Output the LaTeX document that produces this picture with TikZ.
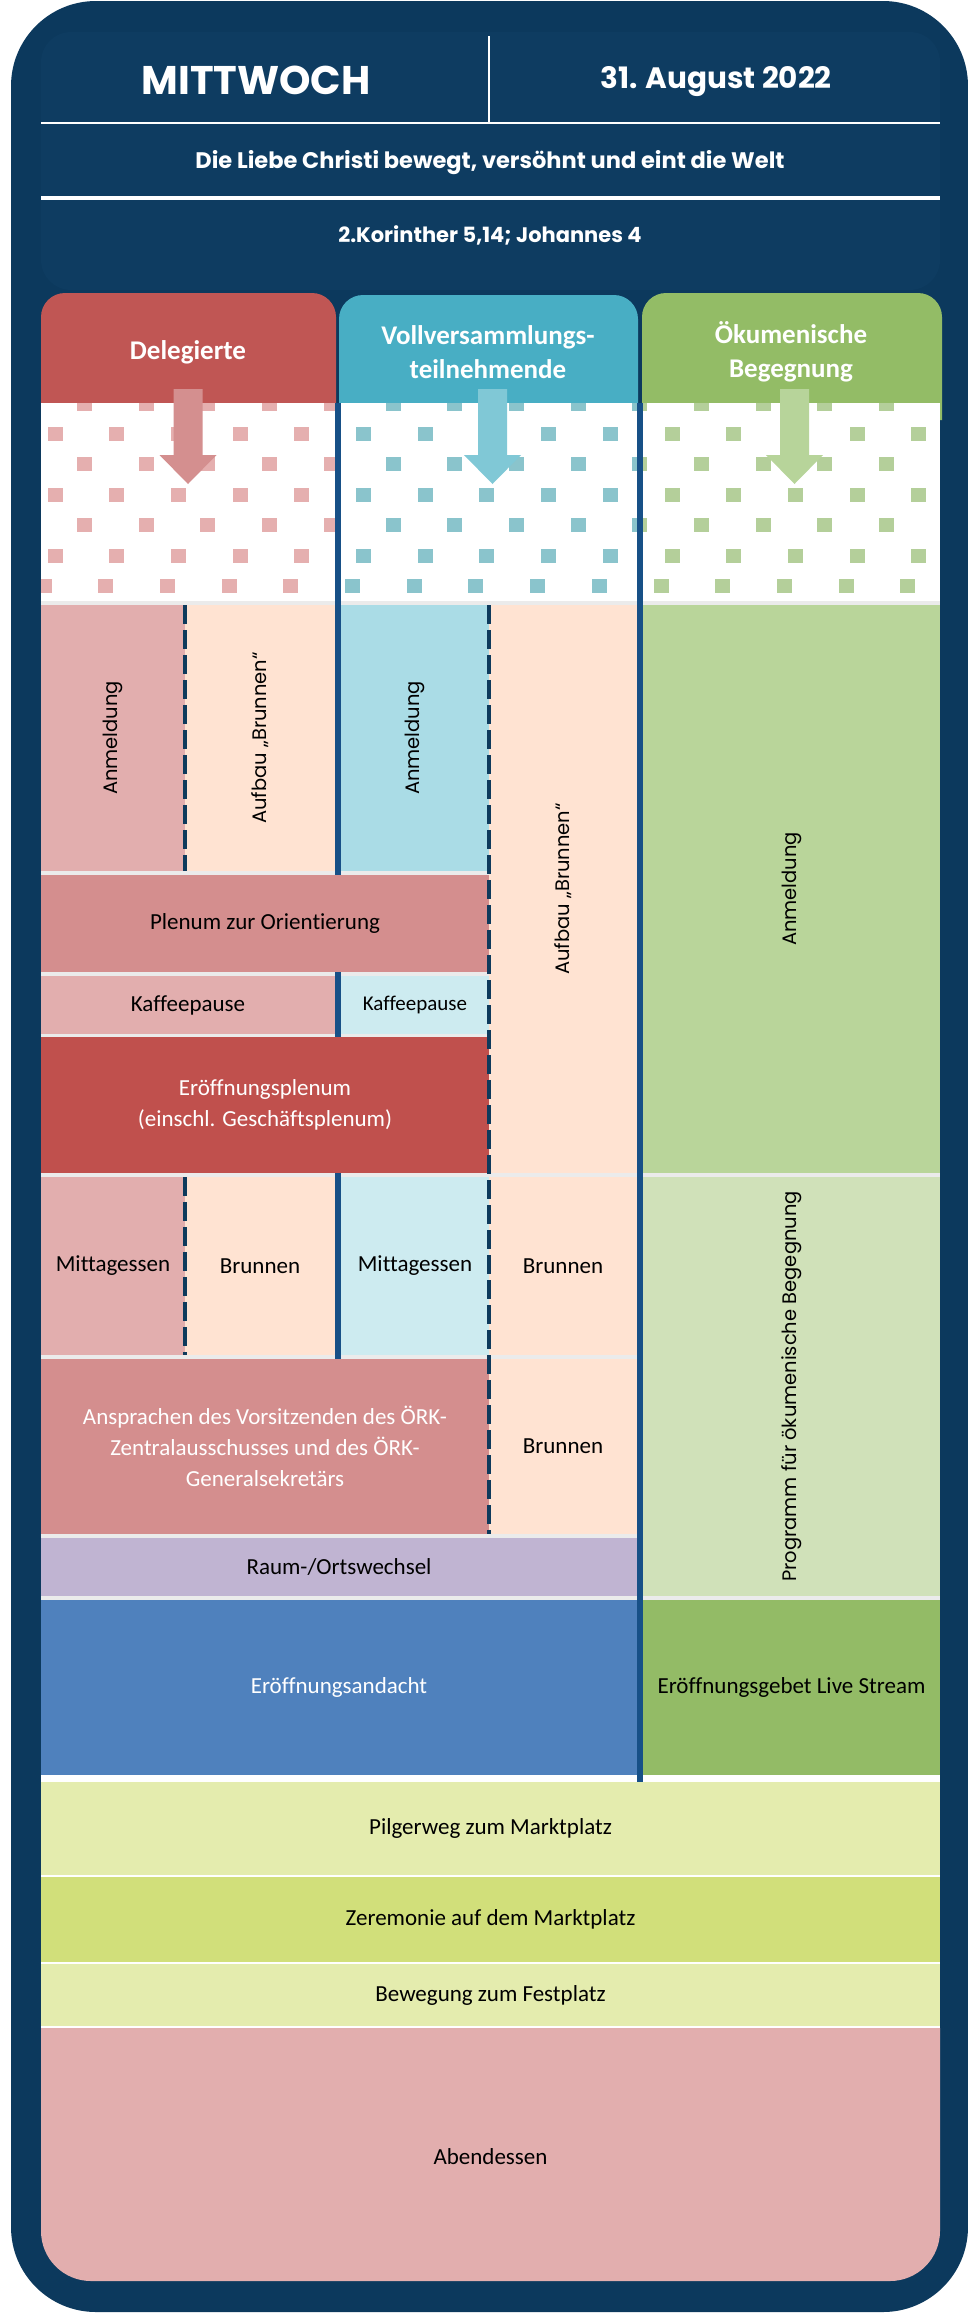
\documentclass[tikz,border=0pt]{standalone}
\usepackage{fontspec}
\setmainfont{Carlito}[Ligatures=NoCommon]
\newfontfamily\gothic{Poppins}
\usepackage{tikz}
\usetikzlibrary{calc, shapes, arrows}
\usetikzlibrary{positioning}

\definecolor{rahmen}{HTML}{0C395D}
\definecolor{rahmeninnen}{HTML}{0E3C61}
\definecolor{trennblau}{HTML}{175087}
\definecolor{strichnavy}{HTML}{0E3A5C}
\definecolor{spaltgrau}{HTML}{EBEBEB}
\definecolor{delkopf}{HTML}{C05654}
\definecolor{volkopf}{HTML}{48AEC4}
\definecolor{oekkopf}{HTML}{93BC66}
\definecolor{delpfeil}{HTML}{D48F8F}
\definecolor{volpfeil}{HTML}{80C8D6}
\definecolor{oekpfeil}{HTML}{B7D49A}
\definecolor{delpunkt}{HTML}{E5AFAF}
\definecolor{volpunkt}{HTML}{8AC4CC}
\definecolor{oekpunkt}{HTML}{B4CF9A}
\definecolor{rosahell}{HTML}{E2AEAE}
\definecolor{rosa}{HTML}{D48E8E}
\definecolor{rot}{HTML}{C0504D}
\definecolor{pfirsich}{HTML}{FFE3D2}
\definecolor{tuerkis}{HTML}{AADCE6}
\definecolor{tuerkishell}{HTML}{CDEBF0}
\definecolor{gruen}{HTML}{B9D59A}
\definecolor{gruenhell}{HTML}{D0E1B9}
\definecolor{gruendunkel}{HTML}{93BB66}
\definecolor{lila}{HTML}{C0B4D2}
\definecolor{blau}{HTML}{4F81BD}
\definecolor{gelbgruen}{HTML}{E4ECAE}
\definecolor{gelbgruendunkel}{HTML}{D1DF7A}

\tikzstyle{block} = [rectangle, inner sep=0pt, outer sep=0pt, align=center, font=\fontsize{23}{31}\selectfont]
\tikzstyle{vblock} = [block, rotate=90, font=\gothic\fontsize{19.5}{24}\selectfont]
\tikzstyle{kopftext} = [text=white, align=center, font=\bfseries\fontsize{27}{34}\selectfont]
\tikzstyle{titel} = [text=white, anchor=base, inner sep=0pt, font=\gothic\bfseries\fontsize{40}{48}\selectfont]
\tikzstyle{motto} = [text=white, anchor=base, inner sep=0pt, font=\gothic\bfseries\fontsize{22.5}{26}\selectfont]

\begin{document}
\begin{tikzpicture}[x=1pt, y=-1pt]

        \useasboundingbox (0, 0) rectangle (967, 2313);
        \fill[rahmen, rounded corners=85pt] (11, 1) rectangle (968, 2312);
        \fill[rahmeninnen, rounded corners=30pt] (41, 32) rectangle (940, 290);

        % Kopf
        \node[titel] at (256, 94) (Tag) {MITTWOCH};
        \node[titel, font=\gothic\bfseries\fontsize{29.5}{34}\selectfont] at (716, 88) (Datum) {31. August 2022};
        \node[motto] at (490, 168) (Motto) {Die Liebe Christi bewegt, versöhnt und eint die Welt};
        \node[motto, font=\gothic\bfseries\fontsize{21}{25}\selectfont] at (490, 242) (Losung) {2.Korinther 5,14; Johannes 4};
        \draw[white, line width=2pt] (489, 36) -- (489, 123);
        \draw[white, line width=2pt] (41, 123) -- (940, 123);
        \draw[white, line width=3.5pt] (41, 198) -- (940, 198);

        % Spaltenkoepfe
        \fill[delkopf] (41, 420) -- (41, 317) arc[start angle=180, end angle=270, radius=24] -- (312, 293) arc[start angle=270, end angle=360, radius=24] -- (336, 420) -- cycle;
        \fill[volkopf] (339, 420) -- (339, 319) arc[start angle=180, end angle=270, radius=24] -- (614, 295) arc[start angle=270, end angle=360, radius=24] -- (638, 420) -- cycle;
        \fill[oekkopf] (642, 420) -- (642, 317) arc[start angle=180, end angle=270, radius=24] -- (918, 293) arc[start angle=270, end angle=360, radius=24] -- (942, 420) -- cycle;

        \fill[white] (41, 403) rectangle (940, 601);
        \fill[spaltgrau] (41, 601) rectangle (940, 1775);

        \foreach \xl/\xr/\punkt in {41/335/delpunkt, 341/637/volpunkt, 643/940/oekpunkt} {
            \begin{scope}
                \clip (\xl, 403) rectangle (\xr, 601);
                \foreach \ry/\rx in {403.5/77, 434/47.5, 464/77, 494.5/47.5, 525/77, 556/47.5, 586/36.5}
                    \foreach \k in {0,...,15}
                        \fill[\punkt] ({\rx+61.7*\k}, \ry-7) rectangle +(15, 14);
            \end{scope}
        }

        \foreach \ax/\farbe in {188/delpfeil, 492.5/volpfeil, 794.5/oekpfeil}
            \fill[\farbe] (\ax-14.5, 389) -- (\ax+14.5, 389) -- (\ax+14.5, 455) -- (\ax+28.5, 455) -- (\ax, 484) -- (\ax-28.5, 455) -- (\ax-14.5, 455) -- cycle;

        \node[kopftext] at (188, 352) (Delegierte) {Delegierte};
        \node[kopftext] at (488, 352) (Vollversammlung) {Vollversammlungs-\\teilnehmende};
        \node[kopftext] at (791, 352) (Begegnung) {Ökumenische\\Begegnung};

        % Programm
        \node[vblock, fill=rosahell, minimum width=266pt, minimum height=144pt] at (113, 738) (DelAnmeldung) {Anmeldung};
        \node[vblock, fill=pfirsich, minimum width=266pt, minimum height=150pt] at (260, 738) (DelAufbau) {Aufbau „Brunnen“};
        \node[vblock, fill=tuerkis, minimum width=266pt, minimum height=148pt] at (415, 738) (VolAnmeldung) {Anmeldung};
        \node[vblock, fill=pfirsich, minimum width=568pt, minimum height=148pt] at (563, 889) (VolAufbau) {Aufbau „Brunnen“};
        \node[vblock, fill=gruen, minimum width=568pt, minimum height=297pt] at (791.5, 889) (OekAnmeldung) {Anmeldung};

        \node[block, fill=rosa, minimum width=448pt, minimum height=97pt] at (265, 923.5) (Plenum) {Plenum zur Orientierung};
        \node[block, fill=rosahell, minimum width=294pt, minimum height=58pt] at (188, 1005) (DelKaffee) {Kaffeepause};
        \node[block, fill=tuerkishell, minimum width=148pt, minimum height=58pt, font=\fontsize{21}{25}\selectfont] at (415, 1005) (VolKaffee) {Kaffeepause};
        \node[block, fill=rot, text=white, minimum width=448pt, minimum height=136pt] at (265, 1105) (Eroeffnung) {Eröffnungsplenum\\(einschl. Geschäftsplenum)};

        \node[block, fill=rosahell, minimum width=144pt, minimum height=178pt] at (113, 1266) (DelMittag) {Mittagessen};
        \node[block, fill=pfirsich, minimum width=150pt, minimum height=178pt] at (260, 1266) (DelBrunnen) {Brunnen};
        \node[block, fill=tuerkishell, minimum width=148pt, minimum height=178pt] at (415, 1266) (VolMittag) {Mittagessen};
        \node[block, fill=pfirsich, minimum width=148pt, minimum height=178pt] at (563, 1266) (VolBrunnen) {Brunnen};
        \node[vblock, fill=gruenhell, minimum width=419pt, minimum height=297pt] at (791.5, 1386.5) (OekProgramm) {Programm für ökumenische Begegnung};

        \node[block, fill=rosa, text=white, minimum width=448pt, minimum height=175pt] at (265, 1446.5) (Ansprachen) {Ansprachen des Vorsitzenden des ÖRK-\\Zentralausschusses und des ÖRK-\\Generalsekretärs};
        \node[block, fill=pfirsich, minimum width=148pt, minimum height=175pt] at (563, 1446.5) (SpaetBrunnen) {Brunnen};
        \node[block, fill=lila, minimum width=596pt, minimum height=58pt] at (339, 1567) (Ortswechsel) {Raum-/Ortswechsel};
        \node[block, fill=blau, text=white, minimum width=596pt, minimum height=175pt] at (339, 1687.5) (Andacht) {Eröffnungsandacht};
        \node[block, fill=gruendunkel, minimum width=297pt, minimum height=175pt] at (791.5, 1687.5) (LiveStream) {Eröffnungsgebet Live Stream};

        \fill[white] (41, 1775) rectangle (940, 2028);
        \node[block, fill=gelbgruen, minimum width=899pt, minimum height=93pt] at (490.5, 1828.5) (Pilgerweg) {Pilgerweg zum Marktplatz};
        \node[block, fill=gelbgruendunkel, minimum width=899pt, minimum height=85pt] at (490.5, 1919.5) (Zeremonie) {Zeremonie auf dem Marktplatz};
        \node[block, fill=gelbgruen, minimum width=899pt, minimum height=62pt] at (490.5, 1995) (Bewegung) {Bewegung zum Festplatz};
        \fill[rosahell] (41, 2028) -- (940, 2028) -- (940, 2231) arc[start angle=0, end angle=90, radius=50] -- (91, 2281) arc[start angle=90, end angle=180, radius=50] -- cycle;
        \node[block] at (490.5, 2157) (Abendessen) {Abendessen};

        % Trennlinien
        \draw[trennblau, line width=6pt] (338, 403) -- (338, 875);
        \draw[trennblau, line width=6pt] (338, 972) -- (338, 1037);
        \draw[trennblau, line width=6pt] (338, 1173) -- (338, 1359);
        \draw[trennblau, line width=6pt] (640, 403) -- (640, 1782);
        \draw[strichnavy, line width=4pt, dash pattern=on 19pt off 6pt] (185, 605) -- (185, 871);
        \draw[strichnavy, line width=4pt, dash pattern=on 19pt off 6pt] (185, 1177) -- (185, 1355);
        \draw[strichnavy, line width=4pt, dash pattern=on 19pt off 6pt] (489, 605) -- (489, 1534);

    \end{tikzpicture}
\end{document}
